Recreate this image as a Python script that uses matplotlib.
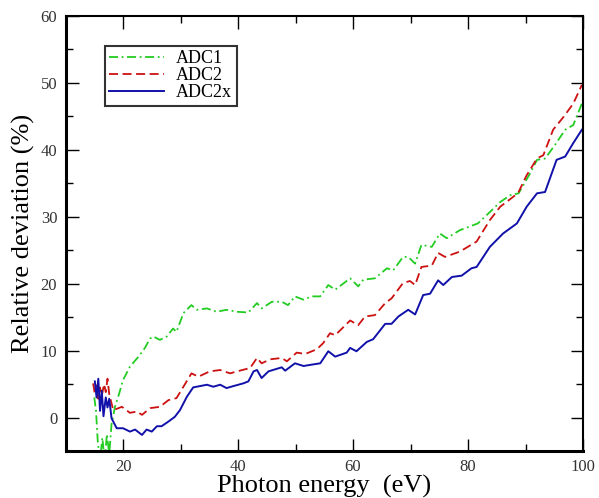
import matplotlib
matplotlib.use("Agg")
import matplotlib.pyplot as plt
from matplotlib.ticker import MultipleLocator

adc1_x = [15.0, 15.3, 15.6, 16.0, 16.4, 16.8, 17.2, 17.6, 18.0, 18.6, 19.3, 20.0, 21.2, 22.7, 23.8,
          24.7, 25.3, 26.4, 27.6, 28.7, 29.3, 30.5, 31.9, 32.8, 34.6, 36.3, 38.0, 39.8, 41.8, 43.3,
          44.1, 45.9, 47.6, 48.7, 49.9, 51.4, 52.8, 54.3, 55.7, 56.9, 59.5, 60.9, 61.8, 63.8, 65.9,
          67.0, 68.7, 69.6, 70.8, 71.9, 73.7, 75.1, 76.3, 78.6, 81.7, 83.8, 85.6, 87.3, 88.8, 90.8,
          92.0, 93.4, 95.1, 96.9, 98.3, 99.8]
adc1_y = [3.0, 1.0, -3.5, -6.5, -3.0, -6.5, -2.5, -5.5, -1.0, 1.6, 3.5, 5.6, 7.6, 9.1, 10.4,
          11.8, 12.1, 11.6, 12.1, 13.3, 12.8, 15.6, 16.8, 16.1, 16.3, 15.8, 16.1, 15.8, 15.7, 17.1,
          16.3, 17.3, 17.3, 16.8, 18.1, 17.6, 18.1, 18.1, 19.8, 19.1, 20.8, 19.6, 20.6, 20.8, 22.3,
          22.0, 24.0, 24.0, 23.0, 25.8, 25.5, 27.5, 26.8, 28.0, 29.0, 30.7, 32.2, 33.2, 33.5, 36.5,
          38.5, 38.7, 40.7, 43.0, 43.7, 46.9]

adc2_x = [14.8, 15.1, 15.4, 15.7, 16.0, 16.3, 16.7, 17.0, 17.3, 17.6, 18.3, 19.8, 21.2, 22.4, 23.3,
          24.7, 26.4, 27.9, 29.3, 30.5, 31.9, 33.1, 35.1, 36.9, 38.6, 40.3, 42.1, 43.3, 44.1, 45.6,
          47.6, 48.5, 50.2, 51.7, 53.7, 54.8, 56.0, 56.9, 59.5, 60.9, 62.1, 63.8, 65.6, 66.7, 68.7,
          69.9, 70.8, 71.9, 73.7, 74.8, 76.0, 78.6, 81.5, 83.8, 85.6, 87.9, 88.8, 90.2, 92.0, 93.1,
          94.8, 96.6, 98.3, 99.8]
adc2_y = [5.1, 3.5, 4.8, 2.8, 4.5, 3.2, 5.0, 3.8, 5.8, 3.5, 1.1, 1.6, 0.7, 0.9, 0.4,
          1.4, 1.6, 2.6, 2.9, 4.6, 6.6, 6.1, 6.9, 7.1, 6.6, 7.0, 7.4, 8.9, 8.1, 8.7,
          8.9, 8.4, 9.7, 9.5, 10.2, 11.1, 12.6, 12.3, 14.5, 13.8, 15.1, 15.3, 17.1, 17.8, 20.1,
          20.4, 19.8, 22.5, 22.7, 24.6, 24.0, 24.8, 26.3, 29.5, 31.5, 33.0, 33.7, 36.2, 38.7, 39.2,
          43.0, 44.9, 46.9, 49.7]

adc2x_x = [15.1, 15.4, 15.7, 16.0, 16.3, 16.6, 17.0, 17.3, 17.6, 18.0, 18.9, 20.0, 21.2, 22.1, 23.3,
           24.1, 25.0, 25.9, 26.7, 27.9, 29.0, 29.9, 31.1, 32.2, 33.4, 34.6, 35.7, 36.9, 38.0, 39.2,
           40.9, 41.8, 42.7, 43.3, 44.1, 45.3, 47.6, 48.2, 49.9, 51.4, 52.8, 54.3, 55.7, 56.9, 58.9,
           59.5, 60.6, 62.4, 63.5, 65.6, 66.7, 67.9, 69.6, 70.8, 72.2, 73.4, 74.8, 75.7, 77.2, 78.9,
           80.6, 81.5, 83.8, 86.1, 88.5, 90.2, 92.0, 93.4, 95.4, 96.9, 98.3, 99.8]
adc2x_y = [5.4, 3.0, 5.8, 1.0, 4.0, 0.2, 3.0, 1.5, 2.8, -0.1, -1.6, -1.6, -2.1, -1.8, -2.6,
           -1.8, -2.1, -1.3, -1.3, -0.6, 0.1, 1.1, 3.1, 4.5, 4.7, 4.9, 4.6, 4.9, 4.4, 4.7,
           5.1, 5.4, 6.9, 7.1, 5.9, 6.9, 7.5, 7.0, 8.1, 7.7, 7.9, 8.1, 9.9, 9.1, 9.7,
           10.4, 9.9, 11.3, 11.7, 14.0, 14.0, 15.1, 16.1, 15.4, 18.3, 18.5, 20.5, 19.8, 21.0, 21.2,
           22.3, 22.5, 25.5, 27.5, 29.0, 31.5, 33.5, 33.7, 38.5, 39.0, 41.0, 43.0]

labels = ["ADC1", "ADC2", "ADC2x"]
colors = ["#22cc22", "#cc1111", "#1111aa"]

plt.rcParams['font.family'] = ['Liberation Serif', 'DejaVu Serif']

fig = plt.figure(figsize=(5.99, 4.98), dpi=100)
ax = fig.add_axes([0.1094, 0.0944, 0.8639, 0.8735])

ax.plot(adc1_x, adc1_y, color=colors[0], lw=1.3, dashes=[5, 2, 1, 2], label=labels[0])
ax.plot(adc2_x, adc2_y, color=colors[1], lw=1.3, dashes=[5, 2.5], label=labels[1])
ax.plot(adc2x_x, adc2x_y, color=colors[2], lw=1.4, label=labels[2])

ax.set_xlim(10, 100)
ax.set_ylim(-5, 60)
ax.xaxis.set_major_locator(MultipleLocator(20))
ax.xaxis.set_minor_locator(MultipleLocator(10))
ax.yaxis.set_major_locator(MultipleLocator(10))
ax.yaxis.set_minor_locator(MultipleLocator(5))
ax.tick_params(which='both', direction='in', top=True, right=True, labelsize=12, pad=6)
ax.tick_params(which='major', length=9, width=1.0)
ax.tick_params(which='minor', length=5, width=1.0)
for lab in ax.get_xticklabels() + ax.get_yticklabels():
    lab.set_color("#333333")

ax.spines['left'].set_linewidth(2.2)
ax.spines['bottom'].set_linewidth(2.2)
ax.spines['top'].set_linewidth(1.5)
ax.spines['right'].set_linewidth(1.5)

ax.set_xlabel("Photon energy  (eV)", fontsize=19, labelpad=0)
ax.set_ylabel("Relative deviation (%)", fontsize=19, labelpad=4)

leg = ax.legend(loc='upper left', bbox_to_anchor=(0.076, 0.932), fontsize=13,
                frameon=True, fancybox=False, handlelength=3.0, handletextpad=0.7,
                labelspacing=0.0, borderpad=0.25, borderaxespad=0.0)
leg.get_frame().set_edgecolor('black')
leg.get_frame().set_linewidth(1.5)

fig.savefig("out.png", dpi=100)
